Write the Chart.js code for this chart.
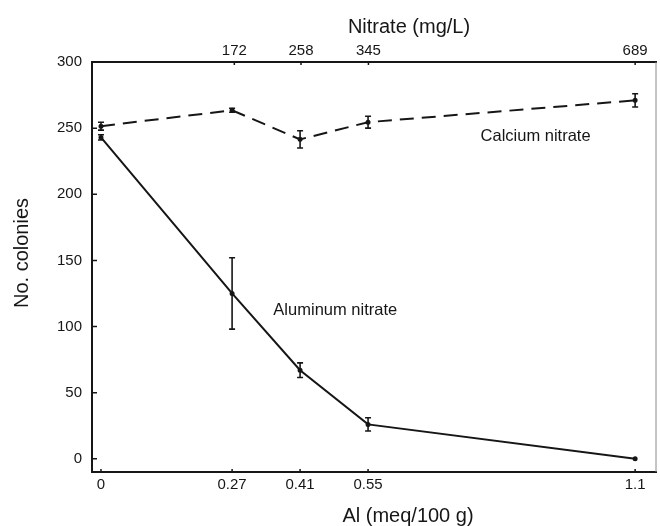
<!DOCTYPE html>
<html>
<head>
<meta charset="utf-8">
<script src="https://cdn.jsdelivr.net/npm/chart.js@4.4.1/dist/chart.umd.min.js"></script>
<style>
  html, body { margin: 0; padding: 0; background: #fff; }
  #wrap { width: 660px; height: 526px; }
</style>
</head>
<body>
<div id="wrap"><canvas id="c" width="660" height="526"></canvas></div>
<script>
// ---- data ----
const alLevels = [0, 0.27, 0.41, 0.55, 1.1];
const alTickLabels = ['0', '0.27', '0.41', '0.55', '1.1'];
const nitrateTicks = [172, 258, 345, 689];
const yTicks = [0, 50, 100, 150, 200, 250, 300];
const aluminumColonies = [243, 125, 67, 26, 0];
const aluminumErr = [2, 27, 5.5, 5, 0];
const calciumColonies = [251.5, 263.5, 241.5, 254.5, 271];
const calciumErr = [3, 1.5, 6.5, 4.5, 5];

const FONT = '"Liberation Sans", Arial, Helvetica, sans-serif';
const INK = '#161616';
const X_MIN = -0.0185, X_MAX = 1.144;
const NITRATE_PER_AL = nitrateTicks[nitrateTicks.length - 1] / alLevels[alLevels.length - 1];

const pts = (xs, ys) => xs.map((x, i) => ({ x: x, y: ys[i] }));

const errorBars = {
  id: 'errorBars',
  afterDatasetsDraw(chart) {
    const { ctx, scales: { x, y } } = chart;
    const errs = [aluminumErr, calciumErr];
    ctx.save();
    ctx.strokeStyle = INK;
    ctx.lineWidth = 1.6;
    chart.data.datasets.forEach((ds, di) => {
      ds.data.forEach((p, i) => {
        const e = errs[di][i];
        if (!e) return;
        const px = x.getPixelForValue(p.x);
        const yt = y.getPixelForValue(p.y + e);
        const yb = y.getPixelForValue(p.y - e);
        ctx.beginPath();
        ctx.moveTo(px, yt); ctx.lineTo(px, yb);
        ctx.moveTo(px - 3, yt); ctx.lineTo(px + 3, yt);
        ctx.moveTo(px - 3, yb); ctx.lineTo(px + 3, yb);
        ctx.stroke();
      });
    });
    ctx.restore();
  }
};

const frameAndText = {
  id: 'frameAndText',
  afterDraw(chart) {
    const { ctx, chartArea: a, scales } = chart;
    ctx.save();
    // right frame line (thin, grey)
    ctx.strokeStyle = '#8a8a8a';
    ctx.lineWidth = 1;
    ctx.beginPath();
    ctx.moveTo(a.right - 0.5, a.top);
    ctx.lineTo(a.right - 0.5, a.bottom);
    ctx.stroke();
    // inward tick marks
    ctx.strokeStyle = INK;
    ctx.lineWidth = 1.5;
    ctx.beginPath();
    scales.y.ticks.forEach(t => {
      const py = scales.y.getPixelForValue(t.value);
      ctx.moveTo(a.left, py); ctx.lineTo(a.left + 5, py);
    });
    scales.x.ticks.forEach(t => {
      const px = scales.x.getPixelForValue(t.value);
      ctx.moveTo(px, a.bottom); ctx.lineTo(px, a.bottom - 3);
    });
    scales.x2.ticks.forEach(t => {
      const px = scales.x2.getPixelForValue(t.value);
      ctx.moveTo(px, a.top); ctx.lineTo(px, a.top + 3);
    });
    ctx.stroke();

    // titles
    ctx.fillStyle = INK;
    ctx.textBaseline = 'middle';
    ctx.textAlign = 'center';
    ctx.font = '20px ' + FONT;
    ctx.fillText('Nitrate (mg/L)', 409, 27);
    ctx.fillText('Al (meq/100 g)', 408, 516);
    ctx.save();
    ctx.translate(22, 253);
    ctx.rotate(-Math.PI / 2);
    ctx.fillText('No. colonies', 0, 0);
    ctx.restore();

    // series labels
    ctx.font = '16.5px ' + FONT;
    ctx.textAlign = 'center';
    ctx.fillText('Calcium nitrate', scales.x.getPixelForValue(0.895), scales.y.getPixelForValue(244));
    ctx.textAlign = 'left';
    ctx.fillText('Aluminum nitrate', scales.x.getPixelForValue(0.355), scales.y.getPixelForValue(112));
    ctx.restore();
  }
};

new Chart(document.getElementById('c'), {
  type: 'line',
  data: {
    datasets: [
      {
        label: 'Aluminum nitrate',
        data: pts(alLevels, aluminumColonies),
        borderColor: INK,
        backgroundColor: INK,
        borderWidth: 2,
        pointRadius: 1.5,
        pointHoverRadius: 1.5,
        tension: 0,
        xAxisID: 'x',
        yAxisID: 'y'
      },
      {
        label: 'Calcium nitrate',
        data: pts(alLevels, calciumColonies),
        borderColor: INK,
        backgroundColor: INK,
        borderWidth: 2,
        borderDash: [14, 8],
        pointRadius: 1.5,
        pointHoverRadius: 1.5,
        tension: 0,
        xAxisID: 'x',
        yAxisID: 'y'
      }
    ]
  },
  options: {
    responsive: false,
    animation: false,
    devicePixelRatio: 1,
    layout: { padding: { left: 0, right: 2, top: 0, bottom: 0 } },
    plugins: { legend: { display: false }, tooltip: { enabled: false } },
    scales: {
      x: {
        type: 'linear',
        position: 'bottom',
        min: X_MIN,
        max: X_MAX,
        afterBuildTicks: s => { s.ticks = alLevels.map(v => ({ value: v })); },
        afterFit: s => { s.height = 54; },
        grid: { display: false, drawTicks: false },
        border: { display: true, color: INK, width: 2 },
        ticks: {
          padding: 4,
          color: INK,
          font: { family: FONT, size: 15 },
          maxRotation: 0,
          autoSkip: false,
          callback: (v, i) => alTickLabels[i]
        }
      },
      x2: {
        type: 'linear',
        position: 'top',
        min: X_MIN * NITRATE_PER_AL,
        max: X_MAX * NITRATE_PER_AL,
        afterBuildTicks: s => { s.ticks = nitrateTicks.map(v => ({ value: v })); },
        afterFit: s => { s.height = 62; },
        grid: { display: false, drawTicks: false },
        border: { display: true, color: INK, width: 2 },
        ticks: {
          padding: 2,
          color: INK,
          font: { family: FONT, size: 15 },
          maxRotation: 0,
          autoSkip: false,
          callback: v => String(v)
        }
      },
      y: {
        type: 'linear',
        position: 'left',
        min: -10,
        max: 300,
        afterBuildTicks: s => { s.ticks = yTicks.map(v => ({ value: v })); },
        afterFit: s => { s.width = 92; },
        grid: { display: false, drawTicks: false },
        border: { display: true, color: INK, width: 2 },
        ticks: {
          padding: 10,
          color: INK,
          font: { family: FONT, size: 15 },
          autoSkip: false,
          callback: v => String(v)
        }
      }
    }
  },
  plugins: [errorBars, frameAndText]
});
</script>
</body>
</html>
